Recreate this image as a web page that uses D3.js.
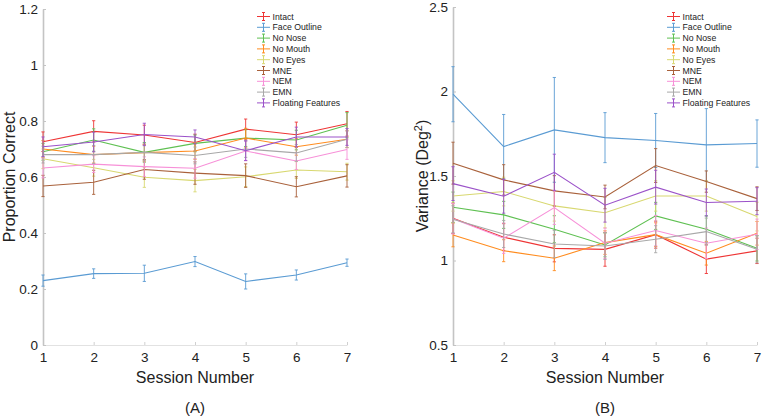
<!DOCTYPE html>
<html>
<head>
<meta charset="utf-8">
<script src="https://cdn.jsdelivr.net/npm/d3@7"></script>
<style>
    body { margin: 0; background: #fff; }
    text { font-family: 'Liberation Sans', Arial, sans-serif; fill: #222; }
</style>
</head>
<body>
<div class="content"></div>
<script>
var width = 762
var height = 420

var sessions = [1, 2, 3, 4, 5, 6, 7]
var conditions = ['Intact', 'Face Outline', 'No Nose', 'No Mouth', 'No Eyes', 'MNE', 'NEM', 'EMN', 'Floating Features']
var colors = ['#ee3535', '#5a9bd3', '#5fc052', '#ff8c1f', '#d8d870', '#a9613b', '#f790d8', '#a8a8a8', '#9b52c9']

// panel A: proportion correct
var correct = [
    [0.726, 0.763, 0.75, 0.723, 0.771, 0.751, 0.79],
    [0.23, 0.255, 0.256, 0.298, 0.227, 0.25, 0.294],
    [0.69, 0.732, 0.688, 0.72, 0.739, 0.732, 0.785],
    [0.70, 0.68, 0.687, 0.693, 0.739, 0.708, 0.735],
    [0.665, 0.633, 0.599, 0.587, 0.601, 0.625, 0.619],
    [0.568, 0.581, 0.627, 0.614, 0.605, 0.565, 0.604],
    [0.632, 0.646, 0.637, 0.631, 0.693, 0.657, 0.698],
    [0.68, 0.68, 0.688, 0.677, 0.70, 0.686, 0.735],
    [0.708, 0.725, 0.752, 0.743, 0.694, 0.743, 0.743]
]
var correctErr = [
    [0.035, 0.038, 0.035, 0.03, 0.036, 0.045, 0.044],
    [0.02, 0.017, 0.029, 0.018, 0.027, 0.018, 0.013],
    [0.03, 0.04, 0.035, 0.03, 0.03, 0.035, 0.045],
    [0.03, 0.03, 0.03, 0.03, 0.035, 0.03, 0.03],
    [0.035, 0.03, 0.036, 0.04, 0.035, 0.03, 0.03],
    [0.038, 0.043, 0.035, 0.04, 0.042, 0.036, 0.04],
    [0.035, 0.03, 0.035, 0.035, 0.035, 0.03, 0.035],
    [0.03, 0.032, 0.03, 0.03, 0.03, 0.03, 0.03],
    [0.035, 0.035, 0.04, 0.025, 0.035, 0.035, 0.03]
]

// panel B: variance
var variance = [
    [1.25, 1.138, 1.072, 1.066, 1.153, 1.008, 1.057],
    [1.984, 1.674, 1.773, 1.727, 1.71, 1.684, 1.692],
    [1.315, 1.27, 1.185, 1.092, 1.264, 1.185, 1.072],
    [1.151, 1.058, 1.013, 1.106, 1.153, 1.043, 1.161],
    [1.382, 1.408, 1.323, 1.283, 1.382, 1.382, 1.26],
    [1.576, 1.477, 1.412, 1.376, 1.562, 1.467, 1.366],
    [1.247, 1.132, 1.313, 1.102, 1.177, 1.102, 1.155],
    [1.244, 1.157, 1.098, 1.086, 1.126, 1.171, 1.066],
    [1.455, 1.38, 1.522, 1.327, 1.434, 1.343, 1.351]
]
var varianceErr = [
    [0.09, 0.08, 0.08, 0.1, 0.08, 0.085, 0.075],
    [0.163, 0.19, 0.31, 0.148, 0.16, 0.215, 0.14],
    [0.09, 0.08, 0.08, 0.07, 0.08, 0.08, 0.075],
    [0.07, 0.065, 0.073, 0.07, 0.07, 0.07, 0.07],
    [0.09, 0.085, 0.09, 0.09, 0.09, 0.09, 0.085],
    [0.124, 0.09, 0.09, 0.07, 0.1, 0.063, 0.07],
    [0.09, 0.09, 0.1, 0.09, 0.09, 0.09, 0.09],
    [0.08, 0.08, 0.08, 0.08, 0.08, 0.08, 0.08],
    [0.1, 0.1, 0.107, 0.1, 0.1, 0.08, 0.08]
]

var ticksA = [0, 0.2, 0.4, 0.6, 0.8, 1, 1.2]
var ticksB = [0.5, 1, 1.5, 2, 2.5]

var svg = d3.select('.content').append('svg')
    .attr('width', width)
    .attr('height', height)

function panel(opts) {
    var x = d3.scaleLinear()
        .domain([1, 7])
        .range([opts.left, opts.right])
    var y = d3.scaleLinear()
        .domain(opts.domain)
        .range([345, opts.top])

    var g = svg.append('g')

    // axes
    var xAxis = g.append('g')
        .attr('transform', 'translate(0,345)')
        .call(d3.axisBottom(x).tickValues(sessions).tickFormat(d3.format('d')).tickSize(-3).tickSizeOuter(0).tickPadding(7))
    xAxis.select('.domain').attr('stroke', '#e2e2e2')
    xAxis.selectAll('.tick line').attr('stroke', '#d0d0d0')
    xAxis.selectAll('text').style('font-size', '13.5px').attr('fill', '#222')

    var yAxis = g.append('g')
        .attr('transform', 'translate(' + opts.left + ',0)')
        .call(d3.axisLeft(y).tickValues(opts.ticks).tickFormat(d3.format('~g')).tickSize(-3).tickSizeOuter(0).tickPadding(5))
    yAxis.select('.domain').attr('stroke', '#c4c4c4').attr('stroke-width', 1.6)
    yAxis.selectAll('.tick line').attr('stroke', '#c4c4c4')
    yAxis.selectAll('text').style('font-size', '13.5px').attr('fill', '#222')

    var line = d3.line()
        .x(function(d, i) { return x(sessions[i]) })
        .y(function(d) { return y(d) })

    // series
    opts.values.forEach(function(vals, k) {
        var s = g.append('g')
            .attr('stroke', colors[k])
            .attr('fill', 'none')
            .attr('stroke-width', 1.1)

        s.append('path')
            .datum(vals)
            .attr('d', line)

        var bars = s.selectAll('.err')
            .data(vals)
            .enter().append('g')
            .attr('class', 'err')
            .attr('stroke-width', 0.9)

        bars.append('line')
            .attr('x1', function(d, i) { return x(sessions[i]) })
            .attr('x2', function(d, i) { return x(sessions[i]) })
            .attr('y1', function(d, i) { return y(d - opts.errors[k][i]) })
            .attr('y2', function(d, i) { return y(d + opts.errors[k][i]) })
        bars.append('line')
            .attr('x1', function(d, i) { return x(sessions[i]) - 1.6 })
            .attr('x2', function(d, i) { return x(sessions[i]) + 1.6 })
            .attr('y1', function(d, i) { return y(d - opts.errors[k][i]) })
            .attr('y2', function(d, i) { return y(d - opts.errors[k][i]) })
        bars.append('line')
            .attr('x1', function(d, i) { return x(sessions[i]) - 1.6 })
            .attr('x2', function(d, i) { return x(sessions[i]) + 1.6 })
            .attr('y1', function(d, i) { return y(d + opts.errors[k][i]) })
            .attr('y2', function(d, i) { return y(d + opts.errors[k][i]) })
    })

    // legend
    var legend = g.append('g')
        .attr('transform', 'translate(' + opts.legendX + ',16.5)')
    var rows = legend.selectAll('.row')
        .data(conditions)
        .enter().append('g')
        .attr('class', 'row')
        .attr('transform', function(d, i) { return 'translate(0,' + (i * 10.8) + ')' })
    rows.append('line')
        .attr('x1', 0).attr('x2', 13)
        .attr('stroke', function(d, i) { return colors[i] })
    rows.append('line')
        .attr('x1', 6.5).attr('x2', 6.5).attr('y1', -4).attr('y2', 4)
        .attr('stroke', function(d, i) { return colors[i] })
    rows.append('line')
        .attr('x1', 5).attr('x2', 8).attr('y1', -4).attr('y2', -4)
        .attr('stroke', function(d, i) { return colors[i] })
    rows.append('line')
        .attr('x1', 5).attr('x2', 8).attr('y1', 4).attr('y2', 4)
        .attr('stroke', function(d, i) { return colors[i] })
    rows.append('text')
        .attr('x', 15.5)
        .attr('y', 3.1)
        .style('font-size', '8.7px')
        .text(function(d) { return d })

    // labels
    g.append('text')
        .attr('x', (opts.left + opts.right) / 2)
        .attr('y', 383)
        .attr('text-anchor', 'middle')
        .style('font-size', '16px')
        .text('Session Number')

    g.append('text')
        .attr('x', (opts.left + opts.right) / 2)
        .attr('y', 413)
        .attr('text-anchor', 'middle')
        .style('font-size', '15px')
        .text(opts.panelLabel)

    return g
}

var a = panel({
    left: 43, right: 347, top: 9,
    domain: [0, 1.2], ticks: ticksA,
    values: correct, errors: correctErr,
    legendX: 257, panelLabel: '(A)'
})
a.append('text')
    .attr('transform', 'translate(14.5,177) rotate(-90)')
    .attr('text-anchor', 'middle')
    .style('font-size', '16px')
    .text('Proportion Correct')

var b = panel({
    left: 453, right: 757, top: 7,
    domain: [0.5, 2.5], ticks: ticksB,
    values: variance, errors: varianceErr,
    legendX: 667, panelLabel: '(B)'
})
var vlabel = b.append('text')
    .attr('transform', 'translate(428,176) rotate(-90)')
    .attr('text-anchor', 'middle')
    .style('font-size', '16px')
vlabel.append('tspan').text('Variance (Deg')
vlabel.append('tspan').attr('dy', -6).style('font-size', '11px').text('2')
vlabel.append('tspan').attr('dy', 6).text(')')
</script>
</body>
</html>
